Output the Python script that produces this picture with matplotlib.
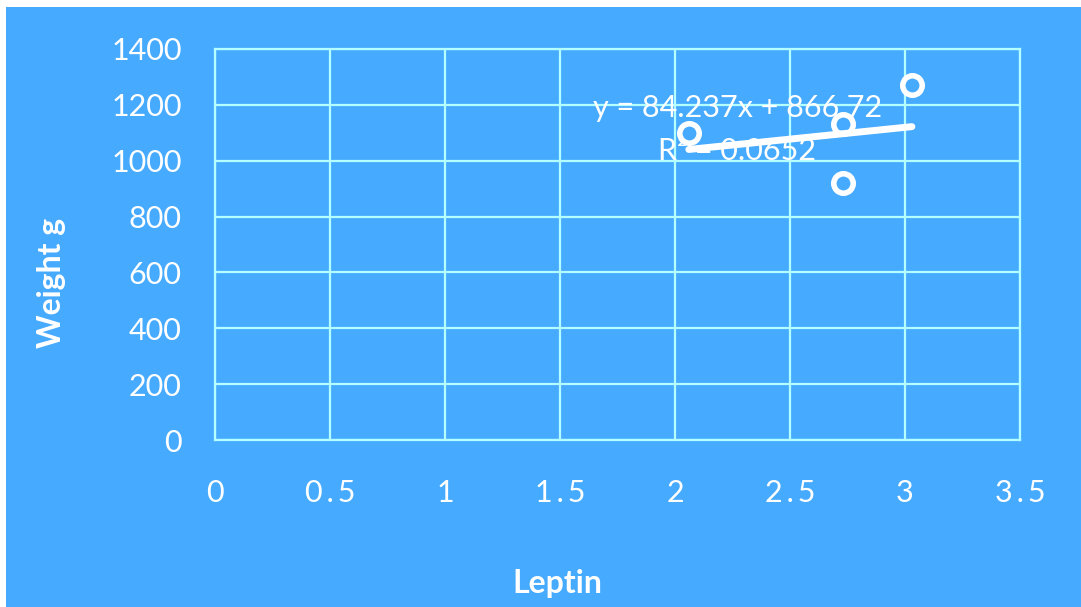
import numpy as np
import matplotlib.pyplot as plt

# Leptin vs body weight
leptin = [2.06, 2.73, 2.73, 3.03]
weight = [1100, 1130, 920, 1270]

# Linear trendline as printed on the chart
slope = 84.237
intercept = 866.72
r_squared = 0.0652

x_ticks = [0, 0.5, 1, 1.5, 2, 2.5, 3, 3.5]
x_tick_labels = ['0', '0\u2009.\u20095', '1', '1\u2009.\u20095', '2',
                 '2\u2009.\u20095', '3', '3\u2009.\u20095']
y_ticks = [0, 200, 400, 600, 800, 1000, 1200, 1400]

BG = '#46aaff'
GRID = '#b4ffff'
FONT = 'Lato'

fig = plt.figure(figsize=(10.81, 6.07), dpi=100)
fig.patch.set_facecolor('white')

# blue chart area, white margin on top and left
bg = fig.add_axes([6 / 1081, 0, 1 - 6 / 1081, 1 - 7 / 607], zorder=-1)
bg.set_facecolor(BG)
bg.set_xticks([])
bg.set_yticks([])
for s in bg.spines.values():
    s.set_visible(False)

ax = fig.add_axes([215 / 1081, 1 - 440 / 607, 805 / 1081, 391 / 607])
ax.set_facecolor(BG)
ax.set_xlim(0, 3.5)
ax.set_ylim(0, 1400)
ax.set_xticks(x_ticks)
ax.set_xticklabels(x_tick_labels)
ax.set_yticks(y_ticks)
ax.grid(True, color=GRID, linewidth=1.6)
ax.set_axisbelow(True)
for s in ax.spines.values():
    s.set_color(GRID)
    s.set_linewidth(1.6)
ax.tick_params(length=0, colors='white', labelsize=22)
ax.tick_params(axis='x', pad=28)
ax.tick_params(axis='y', pad=24)
for lbl in ax.get_xticklabels() + ax.get_yticklabels():
    lbl.set_fontfamily([FONT, 'DejaVu Sans'])

# Scatter points
ax.plot(leptin, weight, linestyle='none', marker='o', markersize=14,
        markerfacecolor=BG, markeredgecolor='white', markeredgewidth=4,
        zorder=3)

# Trendline
tx = np.array([min(leptin), max(leptin)])
ax.plot(tx, slope * tx + intercept, color='white', linewidth=5,
        solid_capstyle='round', zorder=4)

ax.text(2.27, 1190, 'y = %.3fx + %.2f' % (slope, intercept), color='white',
        fontsize=22, family=FONT, ha='center', va='center', zorder=2)
ax.text(2.27, 1036, 'R² = %.4f' % r_squared, color='white',
        fontsize=22, family=FONT, ha='center', va='center', zorder=2)

fig.text(51 / 1081, 1 - 283 / 607, 'Weight g', rotation=90, color='white',
         fontsize=23, fontweight='bold', family=FONT, ha='center', va='center')
fig.text(557 / 1081, 1 - 583 / 607, 'Leptin', color='white',
         fontsize=23, fontweight='bold', family=FONT, ha='center', va='center')

fig.savefig('out.png', dpi=100, facecolor=fig.get_facecolor())
